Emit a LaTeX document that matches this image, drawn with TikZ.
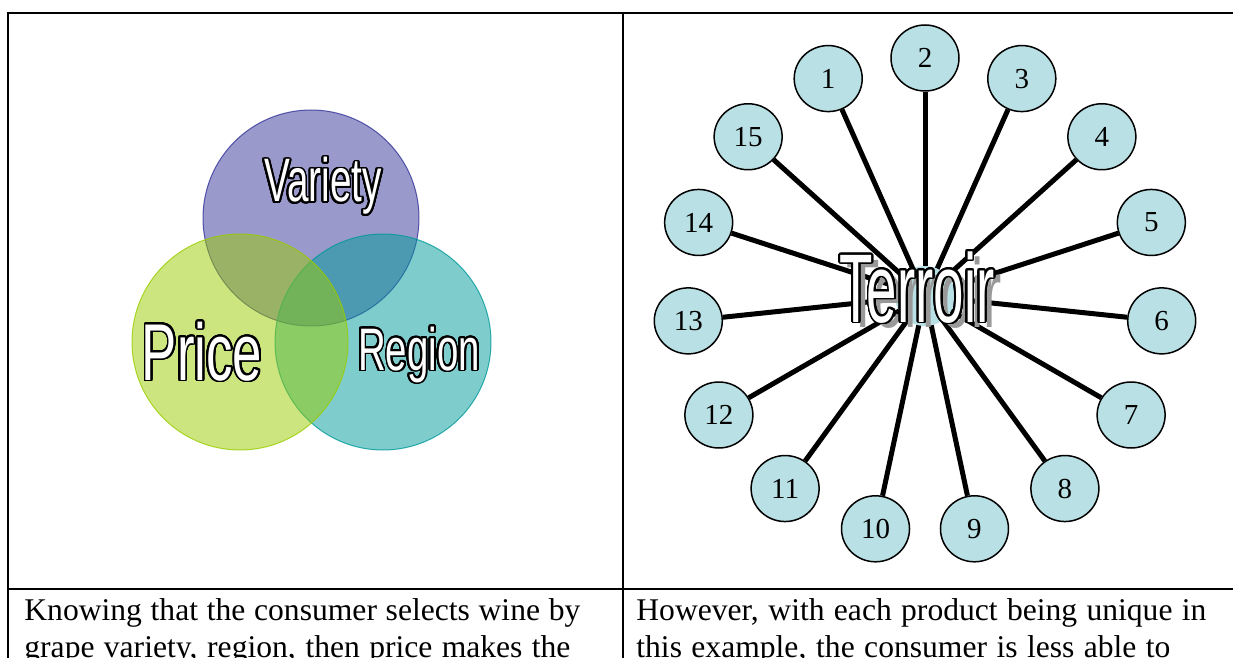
\documentclass[tikz,border=0pt]{standalone}
\usepackage{fontspec}
\usepackage{contour}
\usetikzlibrary{calc,shapes.geometric}
\setmainfont{Liberation Serif}
\newfontfamily\vennfont{Liberation Sans}
\contourlength{0.9pt}
\contournumber{32}
\definecolor{varietyblue}{HTML}{333399}
\definecolor{regionteal}{HTML}{009999}
\definecolor{pricelime}{HTML}{99CC00}
\definecolor{nodeblue}{HTML}{B9E0E4}
\newcommand{\outlined}[3]{{\vennfont\addfontfeature{FakeStretch=#1}\fontsize{#2}{#2}\selectfont\contour{black}{\textcolor{white}{#3}}}}

\begin{document}
\begin{tikzpicture}[x=0.5pt,y=-0.5pt,
    venn/.style={circle,inner sep=0pt,minimum size=108pt,fill opacity=.5,draw opacity=.8,line width=0.5pt},
    numnode/.style={ellipse,draw,line width=0.75pt,fill=nodeblue,inner sep=0pt,minimum width=34pt,minimum height=33pt,font=\fontsize{14.5}{14.5}\selectfont},
    spoke/.style={line width=2.5pt},
    celltext/.style={anchor=base west,inner sep=0pt,font=\fontsize{15.8}{15.8}\selectfont}]
    \useasboundingbox (0,0) rectangle (1233,658);

    % table rules
    \draw[line width=1pt] (8,658) -- (8,13) -- (1233,13);
    \draw[line width=1pt] (623,13) -- (623,658);
    \draw[line width=1pt] (8,589) -- (1233,589);

    % venn diagram
    \node[venn,fill=varietyblue,draw=varietyblue] (variety) at (311,218) {};
    \node[venn,fill=regionteal,draw=regionteal] (region) at (383,342) {};
    \node[venn,fill=pricelime,draw=pricelime] (price) at (240,342) {};
    \node[anchor=base,inner sep=0pt] (varietylabel) at (323,202) {\outlined{0.63}{30.7}{Variety}};
    \node[anchor=base,inner sep=0pt] (pricelabel) at (202,380) {\outlined{0.655}{40.3}{Price}};
    \node[anchor=base,inner sep=0pt] (regionlabel) at (419,370) {\outlined{0.64}{30}{Region}};

    % terroir star
    \coordinate (hub) at (925,296);
    \foreach \n in {1,...,15}
        \node[numnode] (n\n) at ($(hub)+(24*\n-138:238)$) {\n};
    \foreach \n in {1,...,15}
        \draw[spoke] (hub) -- (n\n);
    \node[circle,fill=nodeblue,inner sep=0pt,minimum size=30pt] (terroirhub) at (hub) {};
    \node[anchor=base,inner sep=0pt,text=black!40] (terroirshadow) at (924,328)
        {\vennfont\addfontfeature{FakeStretch=0.56}\fontsize{48.8}{48.8}\selectfont Terroir};
    \node[anchor=base,inner sep=0pt] (terroirlabel) at (917,322) {\outlined{0.56}{48.8}{Terroir}};

    % cell captions
    \node[celltext] (lcap1) at (24,620) {\makebox[278pt][s]{Knowing that the consumer selects wine by}};
    \node[celltext] (lcap2) at (24,657) {\makebox[273pt][s]{grape variety, region, then price makes the}};
    \node[celltext] (rcap1) at (636,620) {\makebox[285pt][s]{However, with each product being unique in}};
    \node[celltext] (rcap2) at (636,657) {\makebox[267pt][s]{this example, the consumer is less able to}};
\end{tikzpicture}
\end{document}
